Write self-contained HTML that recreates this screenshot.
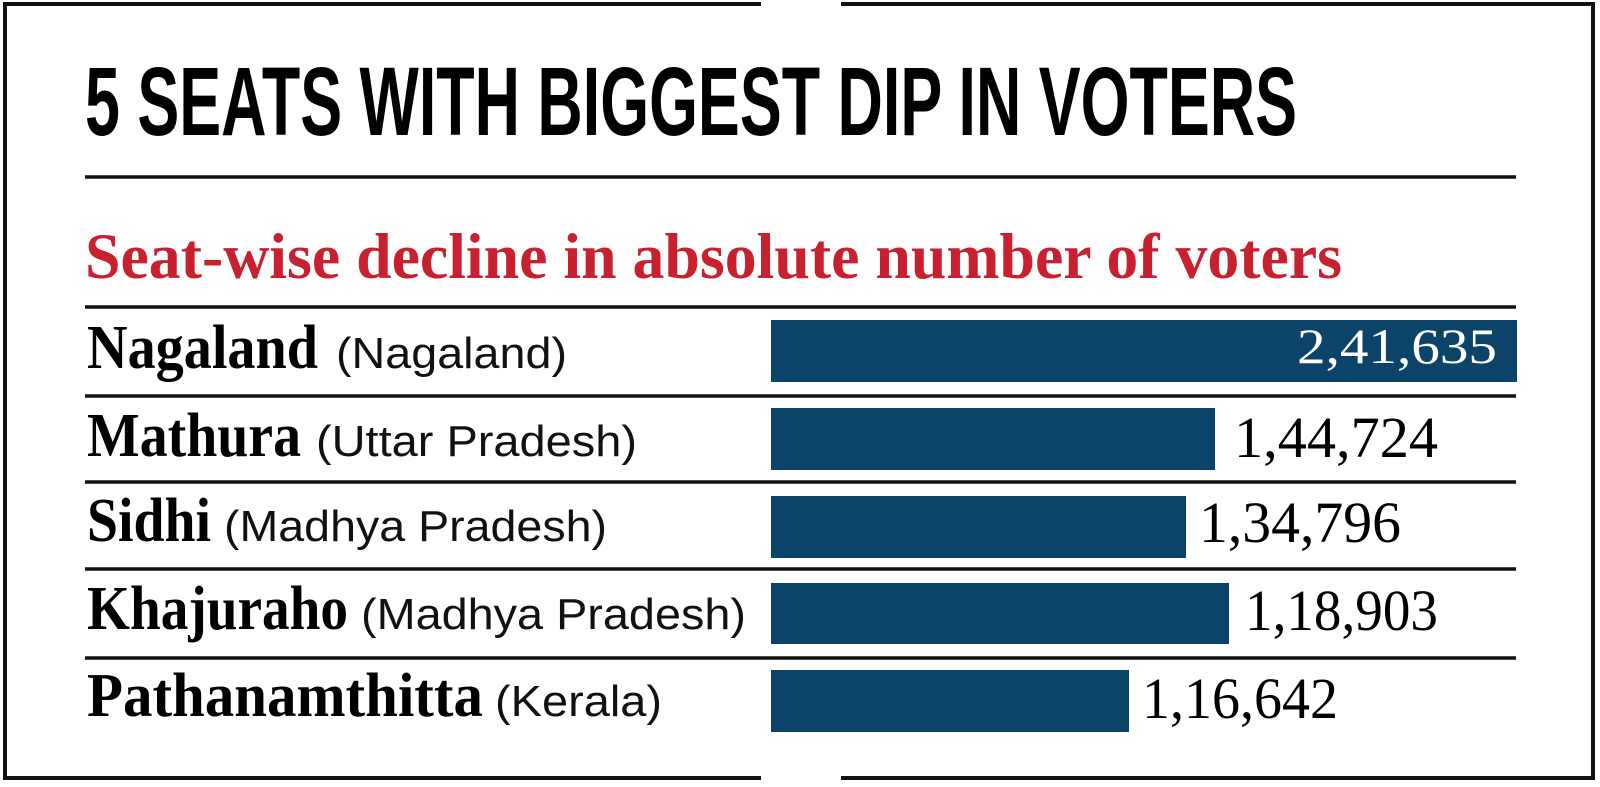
<!DOCTYPE html>
<html><head><meta charset="utf-8"><style>html,body{margin:0;padding:0;background:#fff}svg{display:block}</style></head>
<body>
<svg width="1600" height="787" viewBox="0 0 1600 787" xmlns="http://www.w3.org/2000/svg">
<rect width="1600" height="787" fill="#fff"/>
<g stroke="#111" stroke-width="4" fill="none">
<line x1="5" y1="4" x2="761" y2="4"/>
<line x1="841" y1="4" x2="1595" y2="4"/>
<line x1="5" y1="2" x2="5" y2="780"/>
<line x1="1593" y1="2" x2="1593" y2="780"/>
<line x1="3" y1="778" x2="761" y2="778"/>
<line x1="841" y1="778" x2="1595" y2="778"/>
</g>
<g stroke="#111" stroke-width="3.5">
<line x1="85" y1="177" x2="1516" y2="177"/>
<line x1="85" y1="307" x2="1516" y2="307"/>
<line x1="85" y1="396" x2="1516" y2="396"/>
<line x1="85" y1="482" x2="1516" y2="482"/>
<line x1="85" y1="569" x2="1516" y2="569"/>
<line x1="85" y1="658" x2="1516" y2="658"/>
</g>
<text x="85" y="135" font-family="Liberation Sans, sans-serif" font-weight="bold" font-size="97" textLength="1212" lengthAdjust="spacingAndGlyphs" fill="#000">5 SEATS WITH BIGGEST DIP IN VOTERS</text>
<text x="85" y="278" font-family="Liberation Serif, serif" font-weight="bold" font-size="65" textLength="1257" lengthAdjust="spacingAndGlyphs" fill="#c8202f">Seat-wise decline in absolute number of voters</text>
<g fill="#0b4468">
<rect x="771" y="320" width="746" height="62"/>
<rect x="771" y="408" width="444" height="62"/>
<rect x="771" y="496" width="415" height="62"/>
<rect x="771" y="583" width="458" height="61"/>
<rect x="771" y="670" width="358" height="62"/>
</g>
<g font-family="Liberation Serif, serif" font-weight="bold" font-size="62" fill="#000" lengthAdjust="spacingAndGlyphs">
<text x="87" y="368" textLength="231" lengthAdjust="spacingAndGlyphs">Nagaland</text>
<text x="87" y="456" textLength="214" lengthAdjust="spacingAndGlyphs">Mathura</text>
<text x="87" y="541" textLength="124" lengthAdjust="spacingAndGlyphs">Sidhi</text>
<text x="87" y="629" textLength="261" lengthAdjust="spacingAndGlyphs">Khajuraho</text>
<text x="87" y="716" textLength="396" lengthAdjust="spacingAndGlyphs">Pathanamthitta</text>
</g>
<g font-family="Liberation Sans, sans-serif" font-size="44" fill="#111">
<text x="336" y="368" textLength="231" lengthAdjust="spacingAndGlyphs">(Nagaland)</text>
<text x="316" y="456" textLength="321" lengthAdjust="spacingAndGlyphs">(Uttar Pradesh)</text>
<text x="224" y="541" textLength="383" lengthAdjust="spacingAndGlyphs">(Madhya Pradesh)</text>
<text x="361" y="629" textLength="385" lengthAdjust="spacingAndGlyphs">(Madhya Pradesh)</text>
<text x="495" y="716" textLength="167" lengthAdjust="spacingAndGlyphs">(Kerala)</text>
</g>
<g font-family="Liberation Serif, serif" font-size="58" fill="#000">
<text x="1297" y="363" font-size="50" fill="#fff" textLength="200" lengthAdjust="spacingAndGlyphs">2,41,635</text>
<text x="1234" y="457" textLength="204" lengthAdjust="spacingAndGlyphs">1,44,724</text>
<text x="1199" y="542" textLength="202" lengthAdjust="spacingAndGlyphs">1,34,796</text>
<text x="1245" y="630" textLength="193" lengthAdjust="spacingAndGlyphs">1,18,903</text>
<text x="1142" y="718" textLength="196" lengthAdjust="spacingAndGlyphs">1,16,642</text>
</g>
</svg>
</body></html>
